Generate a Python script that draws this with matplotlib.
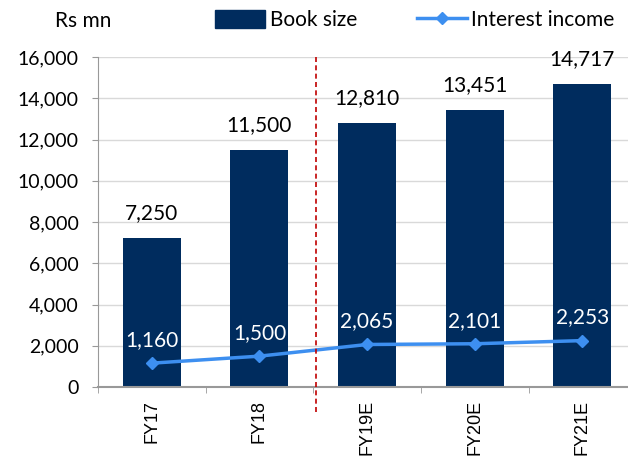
import matplotlib.pyplot as plt
from matplotlib.lines import Line2D
from matplotlib.patches import Patch

years = ['FY17', 'FY18', 'FY19E', 'FY20E', 'FY21E']
book_size = [7250, 11500, 12810, 13451, 14717]
interest_income = [1160, 1500, 2065, 2101, 2253]

plt.rcParams['font.family'] = ['Lato', 'DejaVu Sans']

fig = plt.figure(figsize=(6.28, 4.57), dpi=100)
ax = fig.add_axes([0.156, 0.153, 0.857, 0.722])

x = range(len(years))
ax.bar(x, book_size, width=0.54, color='#002c5e', zorder=2)
ax.plot(x, interest_income, color='#3d8ff0', lw=2.5, marker='D', ms=6, zorder=3)

for i, v in enumerate(book_size):
    ax.text(i, v + 1210, f'{v:,}', ha='center', va='center', fontsize=15, color='black')
for i, v in enumerate(interest_income):
    ax.text(i, v + 1120, f'{v:,}', ha='center', va='center', fontsize=15, color='white', zorder=4)

ax.set_xlim(-0.5, 4.5)
ax.set_ylim(0, 16000)
ax.set_yticks(range(0, 16001, 2000))
ax.set_yticklabels([f'{t:,}' for t in range(0, 16001, 2000)], fontsize=14)
ax.set_xticks(list(x))
ax.set_xticklabels(years, rotation=90, fontsize=13, family='Liberation Sans')
ax.set_xticks([i - 0.5 for i in range(6)], minor=True)
ax.tick_params(axis='x', which='major', length=0, pad=9.5)
ax.tick_params(axis='x', which='minor', length=4, color='#999999')
ax.tick_params(axis='y', length=4, pad=10, color='#999999')
ax.grid(axis='y', color='#d9d9d9', lw=1, zorder=0)
for s in ['top', 'right']:
    ax.spines[s].set_visible(False)
ax.spines['left'].set_color('#999999')
ax.spines['bottom'].set_color('#999999')
ax.spines['bottom'].set_linewidth(1.5)

ax.axvline(1.53, ymin=-0.076, ymax=1.0, color='#c00000', ls=(0, (3, 2)), lw=1.2, clip_on=False, zorder=5)

fig.text(0.088, 0.955, 'Rs mn', fontsize=15, va='center')
handles = [Patch(color='#002c5e'),
           Line2D([0], [0], color='#3d8ff0', lw=2.5, marker='D', ms=6)]
fig.legend(handles, ['Book size', 'Interest income'], loc='center', bbox_to_anchor=(0.661, 0.956),
           ncol=2, frameon=False, fontsize=15, handlelength=2.4, handleheight=0.95,
           handletextpad=0.2, columnspacing=2.9)

fig.savefig('out.png', dpi=100)
